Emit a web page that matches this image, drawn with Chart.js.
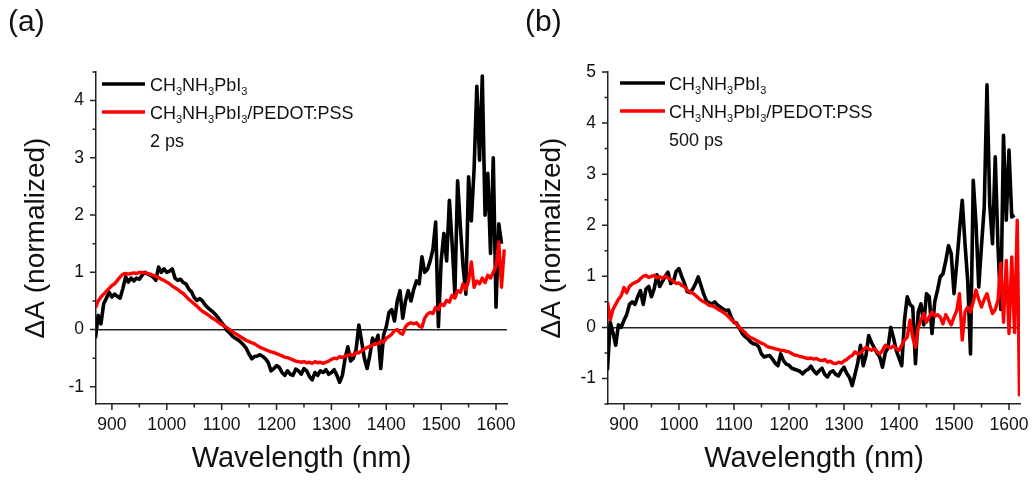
<!DOCTYPE html>
<html><head><meta charset="utf-8">
<script src="https://cdn.jsdelivr.net/npm/chart.js@4.4.1/dist/chart.umd.min.js"></script>
<style>
html,body{margin:0;padding:0;background:#fff;}
#wrap{position:relative;width:1032px;height:482px;overflow:hidden;background:#fff;}
.panel{position:absolute;top:0;width:516px;height:482px;}
canvas{display:block;}
</style></head><body>
<div id="wrap">
<div class="panel" style="left:0"><canvas id="ca" width="516" height="482"></canvas></div>
<div class="panel" style="left:516px"><canvas id="cb" width="516" height="482"></canvas></div>
</div>
<script>
// ---------------- DATA ----------------
const wavelengths = [
 870,875,880,885,890,895,900,905,910,915,
 920,925,930,935,940,945,950,955,960,965,
 970,975,980,985,990,995,1000,1005,1010,1015,
 1020,1025,1030,1035,1040,1045,1050,1055,1060,1065,
 1070,1075,1080,1085,1090,1095,1100,1105,1110,1115,
 1120,1125,1130,1135,1140,1145,1150,1155,1160,1165,
 1170,1175,1180,1185,1190,1195,1200,1205,1210,1215,
 1220,1225,1230,1235,1240,1245,1250,1255,1260,1265,
 1270,1275,1280,1285,1290,1295,1300,1305,1310,1315,
 1320,1325,1330,1335,1340,1345,1350,1355,1360,1365,
 1370,1375,1380,1385,1390,1395,1400,1405,1410,1415,
 1420,1425,1430,1435,1440,1445,1450,1455,1460,1465,
 1470,1475,1480,1485,1490,1495,1500,1505,1510,1515,
 1520,1525,1530,1535,1540,1545,1550,1555,1560,1565,
 1570,1575,1580,1585,1590,1595,1600,1605,1610,1615,
 1619
];

const seriesNames = ['CH3NH3PbI3', 'CH3NH3PbI3/PEDOT:PSS'];
const delayA = '2 ps';
const delayB = '500 ps';

// panel (a), 2 ps
const bareA = [
 -0.15,0.25,0.1,0.45,0.55,0.65,0.57,0.62,0.58,0.55,
 0.72,0.92,0.83,0.9,0.85,0.9,0.88,0.95,1.0,0.97,
 0.95,0.92,0.86,1.09,1.0,1.06,1.0,1.02,1.06,0.9,
 0.86,0.88,0.82,0.8,0.71,0.66,0.56,0.51,0.54,0.5,
 0.43,0.38,0.34,0.3,0.25,0.19,0.12,0.06,-0.02,-0.06,
 -0.12,-0.15,-0.18,-0.22,-0.27,-0.33,-0.43,-0.51,-0.47,-0.46,
 -0.44,-0.47,-0.51,-0.58,-0.72,-0.68,-0.63,-0.66,-0.75,-0.8,
 -0.72,-0.78,-0.8,-0.69,-0.72,-0.78,-0.68,-0.72,-0.82,-0.88,
 -0.75,-0.8,-0.72,-0.75,-0.7,-0.78,-0.75,-0.7,-0.8,-0.92,
 -0.8,-0.5,-0.3,-0.55,-0.5,-0.35,0.08,-0.2,-0.5,-0.68,
 -0.45,-0.15,-0.25,-0.1,-0.68,-0.1,0.05,0.3,0.35,0.15,
 0.5,0.68,0.2,0.5,0.68,0.5,0.7,0.85,0.8,1.27,
 1.0,1.05,1.2,1.4,1.88,0.05,1.2,1.68,1.2,2.26,
 1.5,0.62,2.6,1.8,1.1,0.62,2.67,1.9,2.8,4.25,
 2.96,4.43,2.0,2.73,1.33,3.0,0.39,1.85,1.5,null,
 null
];
const pedotA = [
 0.38,0.5,0.57,0.62,0.67,0.72,0.77,0.8,0.86,0.92,
 0.97,0.98,0.97,0.98,0.99,0.98,1.0,1.0,0.99,0.98,
 0.97,0.95,0.93,0.91,0.88,0.86,0.83,0.8,0.76,0.73,
 0.7,0.66,0.63,0.58,0.53,0.49,0.45,0.41,0.36,0.32,
 0.29,0.26,0.22,0.19,0.16,0.12,0.09,0.06,0.03,0.0,
 -0.04,-0.07,-0.1,-0.13,-0.16,-0.19,-0.21,-0.23,-0.25,-0.28,
 -0.31,-0.33,-0.35,-0.37,-0.39,-0.4,-0.42,-0.44,-0.46,-0.48,
 -0.49,-0.51,-0.53,-0.55,-0.56,-0.57,-0.56,-0.58,-0.57,-0.59,
 -0.56,-0.58,-0.57,-0.59,-0.57,-0.55,-0.52,-0.5,-0.51,-0.47,
 -0.49,-0.46,-0.45,-0.43,-0.45,-0.4,-0.41,-0.37,-0.34,-0.31,
 -0.3,-0.27,-0.24,-0.25,-0.2,-0.22,-0.15,-0.12,-0.08,-0.02,
 0.0,-0.06,-0.08,0.05,0.1,0.12,0.1,0.12,0.06,0.04,
 0.2,0.27,0.3,0.28,0.39,0.35,0.45,0.42,0.51,0.48,
 0.6,0.55,0.68,0.65,0.8,0.7,0.85,1.18,0.74,0.85,
 0.8,0.9,0.82,0.95,0.9,1.0,1.1,1.53,0.74,1.4,
 null
];

// panel (b), 500 ps
const bareB = [
 -0.84,0.1,-0.1,-0.35,0.05,0.0,0.14,0.25,0.45,0.5,
 0.45,0.6,0.72,0.45,0.75,0.8,0.6,0.76,1.03,0.8,
 0.9,1.0,1.08,0.86,0.9,1.1,1.15,1.0,0.86,0.7,
 0.68,0.75,0.85,0.99,0.82,0.65,0.52,0.48,0.46,0.5,
 0.44,0.4,0.36,0.33,0.34,0.2,0.1,0.08,-0.02,-0.12,
 -0.18,-0.22,-0.28,-0.32,-0.33,-0.38,-0.52,-0.58,-0.56,-0.55,
 -0.62,-0.7,-0.75,-0.52,-0.65,-0.72,-0.74,-0.8,-0.82,-0.84,
 -0.86,-0.91,-0.85,-0.82,-0.76,-0.85,-0.91,-0.85,-0.8,-0.92,
 -0.97,-0.88,-0.85,-0.92,-0.95,-0.85,-0.78,-0.9,-0.98,-1.14,
 -0.92,-0.7,-0.35,-0.75,-0.55,-0.16,-0.3,-0.4,-0.5,-0.58,
 -0.78,-0.5,-0.4,0.0,-0.2,-0.45,-0.6,-0.75,0.14,0.6,
 0.45,0.4,-0.71,0.3,0.46,0.05,0.66,0.6,-0.12,0.5,
 0.73,0.99,1.05,1.3,1.6,1.44,0.66,1.25,1.9,2.49,
 1.64,0.9,-0.52,2.88,2.03,0.79,1.6,2.36,4.75,2.4,
 1.64,3.34,1.58,0.35,3.76,2.1,3.47,2.16,2.2,null,
 null
];
const pedotB = [
 0.5,0.15,0.35,0.45,0.55,0.62,0.78,0.68,0.8,0.85,
 0.88,0.9,0.95,1.0,1.02,0.98,1.0,1.02,0.97,0.99,
 0.96,1.0,0.97,0.94,0.9,0.86,0.87,0.82,0.8,0.73,
 0.69,0.67,0.63,0.58,0.53,0.5,0.47,0.43,0.42,0.4,
 0.36,0.33,0.3,0.26,0.21,0.15,0.11,0.06,0.0,-0.05,
 -0.1,-0.16,-0.2,-0.22,-0.25,-0.28,-0.31,-0.33,-0.37,-0.39,
 -0.4,-0.42,-0.43,-0.45,-0.45,-0.47,-0.48,-0.51,-0.54,-0.55,
 -0.57,-0.58,-0.6,-0.61,-0.6,-0.62,-0.61,-0.64,-0.65,-0.63,
 -0.68,-0.66,-0.7,-0.71,-0.68,-0.7,-0.66,-0.63,-0.58,-0.55,
 -0.48,-0.52,-0.5,-0.44,-0.39,-0.42,-0.45,-0.42,-0.47,-0.52,
 -0.45,-0.35,-0.38,-0.4,-0.36,-0.42,-0.45,-0.35,-0.25,-0.19,
 0.14,-0.2,-0.39,0.0,0.15,0.27,0.1,0.2,0.3,0.22,
 0.25,0.2,0.07,0.25,0.15,0.05,0.2,0.33,0.66,-0.25,
 0.3,0.4,0.3,0.5,0.73,0.55,0.4,0.55,0.66,0.45,
 0.27,0.35,0.53,1.25,0.1,1.31,-0.12,1.38,-0.1,2.1,
 -1.35
];

const xTickLabels = [900,1000,1100,1200,1300,1400,1500,1600];
const yTicksA = [-1,0,1,2,3,4];
const yTicksB = [-1,0,1,2,3,4,5];

// ---------------- RENDERING ----------------
const FONT = '"Liberation Sans", Arial, Helvetica, sans-serif';
const TXT = '#111';

function pts(vals){ return wavelengths.map((w,i)=>({x:w, y:vals[i]})); }

function drawChem(ctx, text, x, y, size){
  const parts = text.split(/(\d+)/).filter(s=>s.length);
  let cx = x;
  parts.forEach(p=>{
    const isSub = /^\d+$/.test(p);
    ctx.font = (isSub ? Math.round(size*0.62) : size) + 'px ' + FONT;
    ctx.fillText(p, cx, isSub ? y + 4 : y);
    cx += ctx.measureText(p).width;
  });
}

const decorPlugin = {
  id: 'decor',
  afterDraw(chart, args, o){
    const ctx = chart.ctx, xs = chart.scales.x, ys = chart.scales.y;
    const ca = chart.chartArea;
    ctx.save();
    ctx.strokeStyle = '#222';
    ctx.lineWidth = 1.5;
    ctx.beginPath();
    const xm = o.xTicks, ym = o.yTicks;
    xm.forEach(v=>{ const p = xs.getPixelForValue(v); ctx.moveTo(p, ca.bottom); ctx.lineTo(p, ca.bottom+6); });
    for (let i=0;i<xm.length-1;i++){ const v=(xm[i]+xm[i+1])/2; const p = xs.getPixelForValue(v); ctx.moveTo(p, ca.bottom); ctx.lineTo(p, ca.bottom+3.5); }
    ym.forEach(v=>{ const p = ys.getPixelForValue(v); ctx.moveTo(ca.left, p); ctx.lineTo(ca.left-6, p); });
    const yMinor = [];
    for (let i=0;i<ym.length-1;i++) yMinor.push((ym[i]+ym[i+1])/2);
    yMinor.push(ym[0]-0.5, ym[ym.length-1]+0.5);
    yMinor.forEach(v=>{ if (v < ys.min - 1e-9 || v > ys.max + 1e-9) return; const p = ys.getPixelForValue(v); ctx.moveTo(ca.left, p); ctx.lineTo(ca.left-3.5, p); });
    ctx.stroke();

    // panel label
    ctx.fillStyle = TXT;
    ctx.textBaseline = 'alphabetic';
    ctx.textAlign = 'left';
    ctx.font = '30px ' + FONT;
    ctx.fillText(o.panel, o.panelX, 31);

    // legend
    const colors = ['#000000', '#ff0000'];
    const ly = [o.ly, o.ly + 28];
    seriesNames.forEach((name, i)=>{
      ctx.strokeStyle = colors[i];
      ctx.lineWidth = 3.5;
      ctx.beginPath();
      ctx.moveTo(o.lx1, ly[i]); ctx.lineTo(o.lx2, ly[i]);
      ctx.stroke();
      ctx.fillStyle = TXT;
      drawChem(ctx, name, o.tx, ly[i] + 6.5, 18);
    });
    ctx.font = '18px ' + FONT;
    ctx.fillText(o.delay, o.tx, ly[0] + 63);
    ctx.restore();
  }
};

function makeChart(id, bare, pedot, yMin, yMax, yTicks, yAxisW, padRight, deco){
  return new Chart(document.getElementById(id), {
    type: 'line',
    data: {
      datasets: [
        { label: seriesNames[1], data: pts(pedot), borderColor: '#ff0000', borderWidth: 3.4, pointRadius: 0, tension: 0, order: 1, spanGaps: false, borderJoinStyle: 'round' },
        { label: seriesNames[0], data: pts(bare), borderColor: '#000000', borderWidth: 3.6, pointRadius: 0, tension: 0, order: 2, spanGaps: false, borderJoinStyle: 'round' }
      ]
    },
    options: {
      responsive: false,
      animation: false,
      devicePixelRatio: 1,
      events: [],
      layout: { padding: { top: 72, right: padRight, left: 0, bottom: 0 } },
      plugins: { legend: { display: false }, tooltip: { enabled: false }, decor: deco },
      scales: {
        x: {
          type: 'linear', min: 871, max: 1620,
          afterBuildTicks: s => { s.ticks = xTickLabels.map(v=>({value:v})); },
          afterFit: s => { s.height = 78; s.paddingLeft = 0; s.paddingRight = 0; },
          grid: { display: false, drawTicks: false },
          border: { display: true, color: '#222', width: 1.5 },
          ticks: { color: TXT, font: { family: FONT, size: 17.5 }, padding: 11, maxRotation: 0, autoSkip: false, callback: v => String(v) },
          title: { display: true, text: 'Wavelength (nm)', color: TXT, font: { family: FONT, size: 29 }, padding: { top: 0, bottom: 6 } }
        },
        y: {
          type: 'linear', min: yMin, max: yMax,
          afterBuildTicks: s => { s.ticks = yTicks.map(v=>({value:v})); },
          afterFit: s => { s.width = yAxisW; s.paddingTop = 0; s.paddingBottom = 0; },
          grid: { display: true, drawTicks: false, lineWidth: 1.5, color: c => (c.tick && c.tick.value === 0) ? '#222' : 'rgba(0,0,0,0)' },
          border: { display: true, color: '#222', width: 1.5 },
          ticks: { color: TXT, font: { family: FONT, size: 17.5 }, padding: 12, autoSkip: false, callback: v => String(v) },
          title: { display: true, text: 'ΔA (normalized)', color: TXT, font: { family: FONT, size: 28 }, padding: { top: 19, bottom: 0 } }
        }
      }
    },
    plugins: [decorPlugin]
  });
}

makeChart('ca', bareA, pedotA, -1.3, 4.5, yTicksA, 96, 9,
  { panel: '(a)', panelX: 8, lx1: 102, lx2: 145, tx: 150, ly: 84, delay: delayA, xTicks: xTickLabels, yTicks: yTicksA });
makeChart('cb', bareB, pedotB, -1.5, 5, yTicksB, 92, 12,
  { panel: '(b)', panelX: 9, lx1: 104, lx2: 149, tx: 153, ly: 83, delay: delayB, xTicks: xTickLabels, yTicks: yTicksB });
</script>
</body></html>
